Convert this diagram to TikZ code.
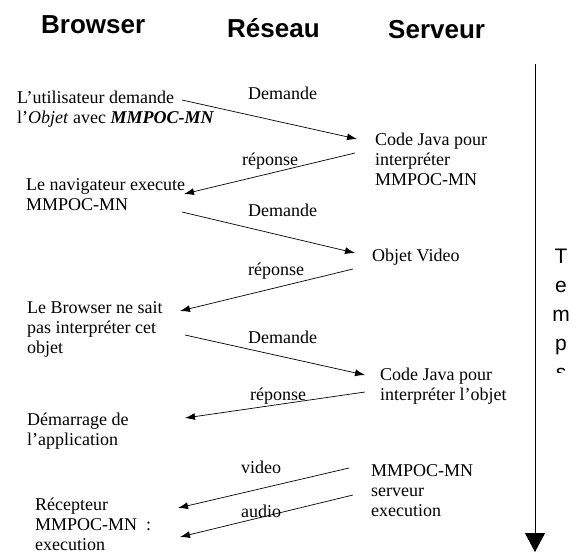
\documentclass[tikz,border=0pt]{standalone}
\usepackage{fontspec}
\setmainfont{Liberation Serif}
\newfontfamily\titlefont{Liberation Sans}
\usetikzlibrary {arrows.meta}

\tikzset{
  titre/.style={anchor=base west, inner sep=0pt, font=\titlefont\bfseries\fontsize{26}{30}\selectfont},
  texte/.style={anchor=base west, inner sep=0pt, align=left, font=\fontsize{18}{20}\selectfont},
  msg/.style={arrows = {-Latex[length=10pt, width=7pt]}, line width=0.7pt},
}

\begin{document}
\begin{tikzpicture}[x=1pt, y=-1pt]
        \useasboundingbox (0, 0) rectangle (576, 554);

        % colonnes
        \node [titre] (browser) at (41, 33) {Browser};
        \node [titre] (reseau) at (227, 37) {Réseau};
        \node [titre] (serveur) at (388, 38) {Serveur};

        % cote browser (base = derniere ligne)
        \node [texte] (usr) at (17, 123) {L'utilisateur demande\\l'\textit{Objet} avec \textbf{\textit{MMPOC-MN}}};
        \node [texte] (nav) at (26, 210) {Le navigateur execute\\MMPOC-MN};
        \node [texte] (brw) at (27, 353) {Le Browser ne sait\\pas interpréter cet\\objet};
        \node [texte] (dem) at (27, 445) {Démarrage de\\l'application};
        \node [texte] (rec) at (35, 550) {Récepteur\\MMPOC-MN~ :\\execution};

        % cote serveur
        \node [texte] (javaA) at (375, 185) {Code Java pour\\interpréter\\MMPOC-MN};
        \node [texte] (video) at (372, 261) {Objet Video};
        \node [texte] (javaB) at (380, 400) {Code Java pour\\interpréter l'objet};
        \node [texte] (srv) at (371, 516) {MMPOC-MN\\serveur\\execution};

        % etiquettes
        \node [texte] (demA) at (248, 99) {Demande};
        \node [texte] (repA) at (242, 165) {réponse};
        \node [texte] (demB) at (248, 216) {Demande};
        \node [texte] (repB) at (248, 275) {réponse};
        \node [texte] (demC) at (248, 343) {Demande};
        \node [texte] (repC) at (250, 400) {réponse};
        \node [texte] (vid) at (241, 473) {video};
        \node [texte] (aud) at (241, 517) {audio};

        % extremites des messages
        \coordinate (a1) at (182, 100);  \coordinate (b1) at (357, 139);
        \coordinate (a2) at (355, 153);  \coordinate (b2) at (184, 194);
        \coordinate (a3) at (182, 212);  \coordinate (b3) at (355, 253);
        \coordinate (a4) at (353, 269);  \coordinate (b4) at (180, 311);
        \coordinate (a5) at (185, 335);  \coordinate (b5) at (365, 375);
        \coordinate (a6) at (365, 392);  \coordinate (b6) at (185, 418);
        \coordinate (a7) at (349, 468);  \coordinate (b7) at (178, 508);
        \coordinate (a8) at (353, 495);  \coordinate (b8) at (180, 537);

        \foreach \m in {1, ..., 8}{
          \draw [msg] (a\m) -- (b\m);
        }

        % axe du temps
        \coordinate (t0) at (535, 64);
        \coordinate (t1) at (535, 552);
        \draw [arrows = {-Triangle[length=19pt, width=20pt]}, line width=0.9pt] (t0) -- (t1);

        \begin{scope}
          \clip (540, 230) rectangle (576, 372);
          \foreach \i / \lettre in {0/T, 1/e, 2/m, 3/p, 4/s}{
            \node [anchor=base, inner sep=0pt, font=\titlefont\fontsize{21}{24}\selectfont] (temps\i) at (561, {263 + 29 * \i}) {\lettre};
          }
        \end{scope}
      \end{tikzpicture}
\end{document}
